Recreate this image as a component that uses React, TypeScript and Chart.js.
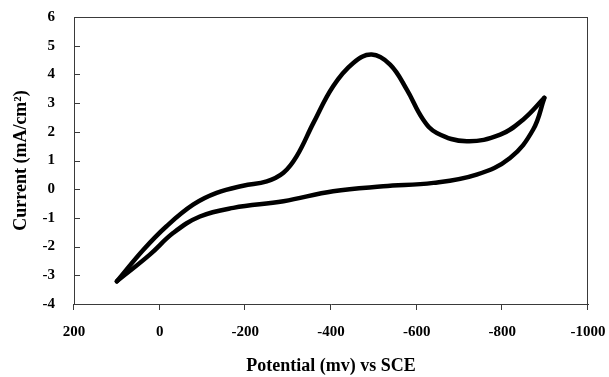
import React, { useEffect, useRef } from "react";
import { Chart, registerables } from "chart.js";

Chart.register(...registerables);

// Anodic (forward) sweep: +100 mV -> -900 mV
const forwardPotential = [100, 38, -16, -78, -133, -195, -250, -289, -320, -359, -405, -452, -495, -538, -577, -615, -647, -717, -795, -849, -898];
const forwardCurrent = [-3.21, -2.11, -1.29, -0.54, -0.13, 0.12, 0.27, 0.57, 1.15, 2.31, 3.59, 4.4, 4.69, 4.34, 3.47, 2.43, 1.96, 1.67, 1.9, 2.43, 3.18];

// Cathodic (reverse) sweep: -900 mV -> +100 mV
const reversePotential = [-898, -872, -818, -740, -639, -522, -405, -289, -172, -94, -32, 23, 100];
const reverseCurrent = [3.18, 2.08, 1.09, 0.51, 0.22, 0.1, -0.07, -0.42, -0.65, -0.95, -1.52, -2.28, -3.21];

const xTicks = [200, 0, -200, -400, -600, -800, -1000];
const yTicks = [-4, -3, -2, -1, 0, 1, 2, 3, 4, 5, 6];

const xTitle = "Potential (mv) vs SCE";
const yTitle = "Current (mA/cm²)";

const AXIS_COLOR = "#3a3a3a";
const SERIF = "'Liberation Serif', 'Times New Roman', serif";

const framePlugin = {
  id: "frame",
  afterDraw(chart: any) {
    const { ctx, chartArea } = chart;
    const yScale = chart.scales.y;
    const xScale = chart.scales.x;
    ctx.save();
    ctx.strokeStyle = AXIS_COLOR;
    ctx.lineWidth = 1;
    ctx.beginPath();
    ctx.moveTo(chartArea.left, chartArea.top + 0.5);
    ctx.lineTo(chartArea.right, chartArea.top + 0.5);
    ctx.moveTo(chartArea.right - 0.5, chartArea.top);
    ctx.lineTo(chartArea.right - 0.5, chartArea.bottom);
    yTicks.forEach((v) => {
      const py = Math.round(yScale.getPixelForValue(v)) + 0.5;
      ctx.moveTo(chartArea.left, py);
      ctx.lineTo(chartArea.left + 6, py);
    });
    xTicks.forEach((v) => {
      const px = Math.round(xScale.getPixelForValue(v)) - 0.5;
      ctx.moveTo(px, chartArea.bottom);
      ctx.lineTo(px, chartArea.bottom + 6);
    });
    ctx.stroke();
    ctx.restore();
  },
};

export default function App() {
  const canvasRef = useRef<HTMLCanvasElement | null>(null);

  useEffect(() => {
    if (!canvasRef.current) return;
    const forward = forwardPotential.map((x, i) => ({ x, y: forwardCurrent[i] }));
    const reverse = reversePotential.map((x, i) => ({ x, y: reverseCurrent[i] }));
    const lineStyle = {
      borderColor: "#000",
      borderWidth: 4.5,
      pointRadius: 0,
      showLine: true,
      tension: 0.4,
      fill: false,
      borderCapStyle: "round" as const,
      borderJoinStyle: "round" as const,
    };
    const chart = new Chart(canvasRef.current, {
      type: "scatter",
      data: {
        datasets: [
          { label: "forward", data: forward, ...lineStyle },
          { label: "reverse", data: reverse, ...lineStyle },
        ],
      },
      plugins: [framePlugin],
      options: {
        animation: false,
        responsive: true,
        maintainAspectRatio: false,
        layout: { padding: { top: 17, right: 21, left: 0, bottom: 0 } },
        plugins: { legend: { display: false }, tooltip: { enabled: false } },
        scales: {
          x: {
            type: "linear",
            reverse: true,
            min: -1000,
            max: 200,
            afterFit: (s: any) => {
              s.height = 73;
            },
            afterBuildTicks: (s: any) => {
              s.ticks = xTicks.map((v) => ({ value: v }));
            },
            ticks: {
              color: "#000",
              padding: 0,
              font: { family: SERIF, size: 15, weight: "bold" },
              callback: (v: any) => String(v),
            },
            grid: { drawOnChartArea: false, drawTicks: true, tickLength: 19, color: "rgba(0,0,0,0)" },
            border: { display: true, color: AXIS_COLOR, width: 1 },
            title: {
              display: true,
              text: xTitle,
              color: "#000",
              padding: { top: 0, bottom: 0 },
              font: { family: SERIF, size: 18, weight: "bold" },
            },
          },
          y: {
            type: "linear",
            min: -4,
            max: 6,
            afterFit: (s: any) => {
              s.width = 74;
            },
            afterBuildTicks: (s: any) => {
              s.ticks = yTicks.map((v) => ({ value: v }));
            },
            ticks: {
              color: "#000",
              padding: 0,
              font: { family: SERIF, size: 15, weight: "bold" },
              callback: (v: any) => String(v),
            },
            grid: { drawOnChartArea: false, drawTicks: true, tickLength: 19, color: "rgba(0,0,0,0)" },
            border: { display: true, color: AXIS_COLOR, width: 1 },
            title: {
              display: true,
              text: yTitle,
              color: "#000",
              padding: { top: 11, bottom: 0 },
              font: { family: SERIF, size: 18, weight: "bold" },
            },
          },
        },
      },
    });
    return () => chart.destroy();
  }, []);

  return (
    <div style={{ position: "fixed", left: 0, top: 0, width: 609, height: 377, background: "#fff" }}>
      <canvas ref={canvasRef} />
    </div>
  );
}
